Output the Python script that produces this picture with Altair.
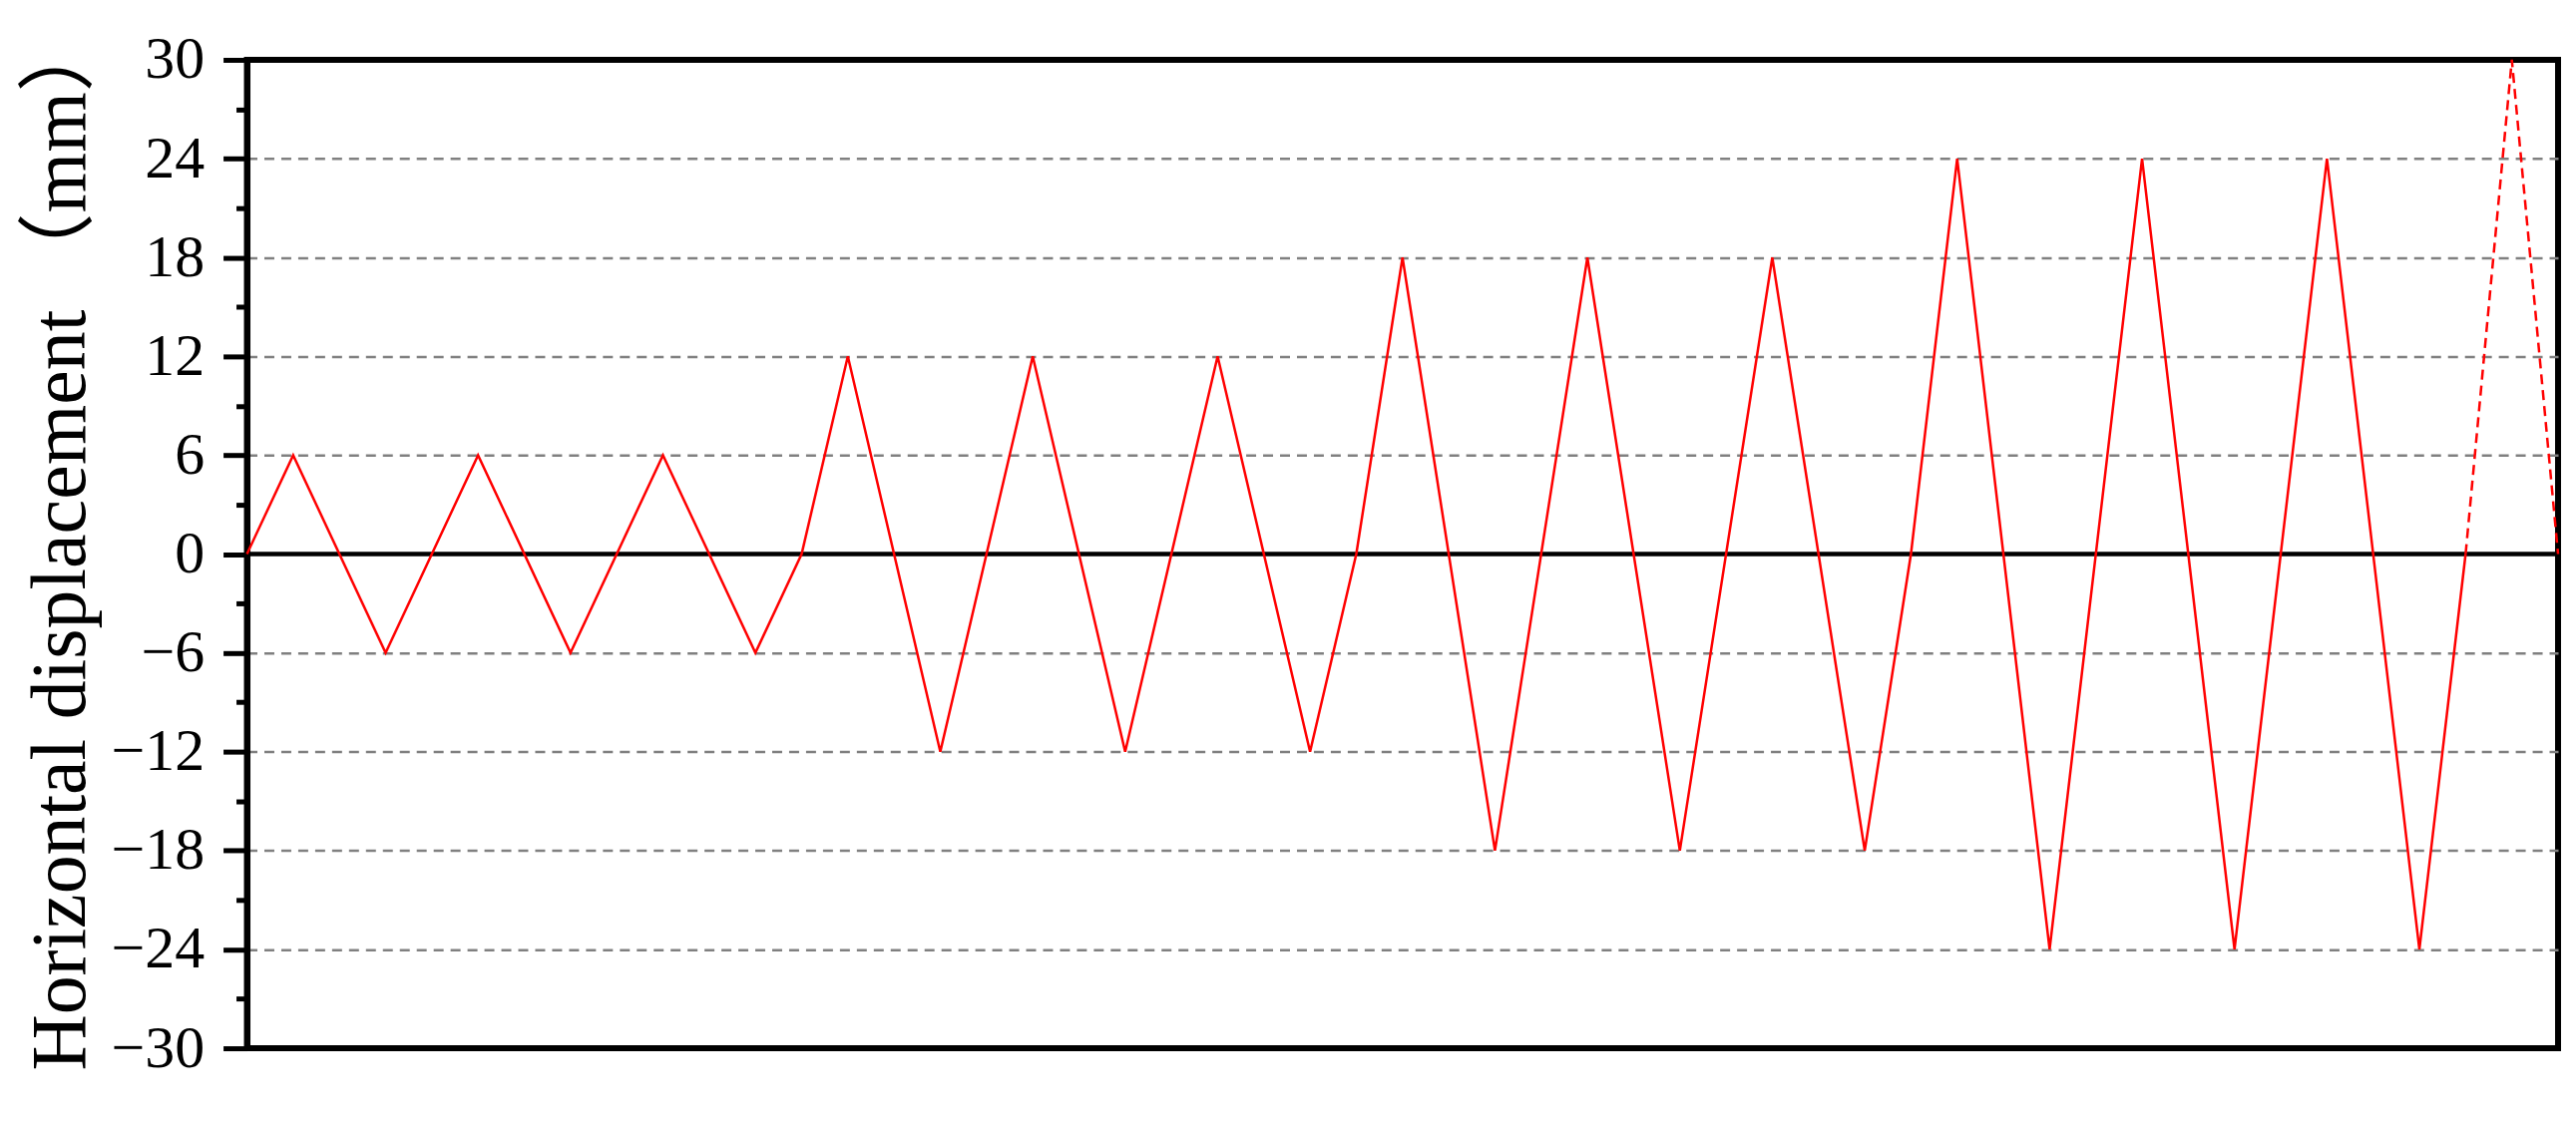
import altair as alt
import pandas as pd

# Loading protocol (time in cycle units) and horizontal displacement (mm)
time_solid = [0, 0.25, 0.75, 1.25, 1.75, 2.25, 2.75, 3,
              3.25, 3.75, 4.25, 4.75, 5.25, 5.75, 6,
              6.25, 6.75, 7.25, 7.75, 8.25, 8.75, 9,
              9.25, 9.75, 10.25, 10.75, 11.25, 11.75, 12]
disp_solid = [0, 6, -6, 6, -6, 6, -6, 0,
              12, -12, 12, -12, 12, -12, 0,
              18, -18, 18, -18, 18, -18, 0,
              24, -24, 24, -24, 24, -24, 0]
time_dashed = [12, 12.25, 12.5]
disp_dashed = [0, 30, 0]

y_ticks = [-30, -27, -24, -21, -18, -15, -12, -9, -6, -3, 0,
           3, 6, 9, 12, 15, 18, 21, 24, 27, 30]
y_title = "Horizontal displacement （mm）"

solid_df = pd.DataFrame({"t": time_solid, "d": disp_solid})
dashed_df = pd.DataFrame({"t": time_dashed, "d": disp_dashed})

W, H = 2321, 993

xscale = alt.Scale(domain=[0, 12.5], nice=False, zero=False)
yscale = alt.Scale(domain=[-30, 30], nice=False)

yaxis = alt.Axis(
    values=y_ticks,
    title=y_title,
    titleFont="Liberation Serif, Noto Sans CJK SC",
    titleFontSize=78,
    titleFontWeight="normal",
    titleColor="black",
    titleAngle=-90,
    titleAlign="center",
    titleBaseline="alphabetic",
    titleX=-163,
    titleY=H / 2 - 12,
    labelFont="Liberation Serif",
    labelFontSize=60,
    labelColor="black",
    labelPadding=19,
    labelExpr="datum.value % 6 === 0 ? datum.label : ''",
    labelOverlap=False,
    domain=True,
    domainColor="black",
    domainWidth=6,
    ticks=True,
    tickColor="black",
    tickWidth=5,
    tickSize={"condition": {"test": "datum.value % 6 === 0", "value": 24}, "value": 11},
    grid=True,
    gridColor="#808080",
    gridWidth=2.5,
    gridDash=[10, 7],
    gridOpacity={"condition": {"test": "datum.value % 6 === 0 && abs(datum.value) < 30 && datum.value !== 0",
                               "value": 1}, "value": 0},
)

base_solid = alt.Chart(solid_df).mark_line(color="#ff0000", strokeWidth=2.5).encode(
    x=alt.X("t:Q", scale=xscale, axis=None),
    y=alt.Y("d:Q", scale=yscale, axis=yaxis),
)

dashed = alt.Chart(dashed_df).mark_line(color="#ff0000", strokeWidth=2.5, strokeDash=[10, 6]).encode(
    x=alt.X("t:Q", scale=xscale, axis=None),
    y=alt.Y("d:Q", scale=yscale),
)

zero_line = alt.Chart(pd.DataFrame({"z": [0]})).mark_rule(color="black", strokeWidth=4.5).encode(
    y=alt.Y("z:Q", scale=yscale)
)

chart = alt.layer(zero_line, base_solid, dashed).properties(
    width=W,
    height=H,
    autosize=alt.AutoSizeParams(type="none"),
    padding={"left": 240, "top": 51, "right": 10, "bottom": 60},
    background="white",
).configure_view(stroke="black", strokeWidth=6)

chart.save("out.html", embed_options={"renderer": "svg", "actions": False})
